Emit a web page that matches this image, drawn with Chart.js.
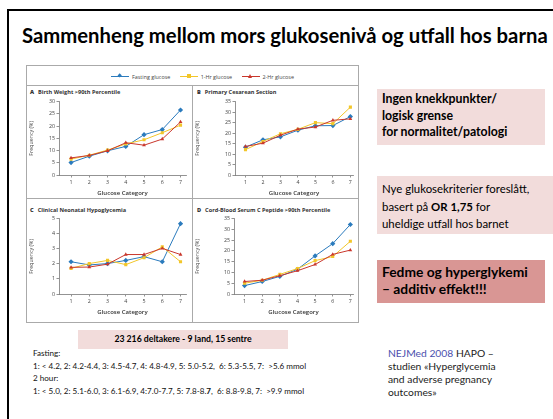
<!DOCTYPE html>
<html>
<head>
<meta charset="utf-8">
<script src="https://cdn.jsdelivr.net/npm/chart.js@4.4.1/dist/chart.umd.min.js"></script>
<style>
  body { margin:0; width:553px; height:419px; background:#fff; position:relative; overflow:hidden; font-family:Lato, "Open Sans", sans-serif; }
  .abs { position:absolute; }
  #frameL { left:7px; top:9px; width:2px; height:410px; background:#000; }
  #frameT { left:7px; top:9px; width:546px; height:2px; background:#000; }
  #title { left:22px; top:23px; font-size:20.3px; font-weight:bold; color:#000; white-space:nowrap; }
  #fig { left:26px; top:65px; width:331px; height:256px; border:1px solid #aaa; }
  .hline { background:#aaa; height:1px; }
  .vline { background:#aaa; width:1px; }
  .ptitle { font-family:"Open Sans", sans-serif; font-size:5.6px; font-weight:bold; color:#333; white-space:nowrap; }
  .ptitle b { margin-right:4px; }
  #legend { left:111px; top:72px; font-family:"Open Sans", sans-serif; font-size:5.4px; color:#444; white-space:nowrap; }
  #legend span { display:inline-block; vertical-align:middle; }
  .lg { position:relative; width:18px; height:1px; margin-right:3px; }
  .mk { position:absolute; left:7px; top:-2px; width:4px; height:4px; }
  canvas { position:absolute; }
  .box { position:absolute; color:#000; white-space:nowrap; }
</style>
</head>
<body>
<div id="frameL" class="abs"></div>
<div id="frameT" class="abs"></div>
<div id="title" class="abs">Sammenheng mellom mors glukosenivå og utfall hos barna</div>

<div id="fig" class="abs"></div>
<div class="abs hline" style="left:26px;top:85px;width:332px;"></div>
<div class="abs hline" style="left:26px;top:198px;width:332px;"></div>
<div class="abs vline" style="left:192px;top:85px;height:237px;"></div>

<div id="legend" class="abs">
  <span class="lg" style="background:#2b7bbd"><span class="mk" style="background:#2b7bbd;transform:rotate(45deg);width:3.4px;height:3.4px;left:7.3px;top:-1.7px"></span></span><span style="margin-right:8px">Fasting glucose</span>
  <span class="lg" style="background:#f2c62a"><span class="mk" style="background:#f2c62a"></span></span><span style="margin-right:8px">1-Hr glucose</span>
  <span class="lg" style="background:#c9372c"><span class="mk" style="width:0;height:0;background:none;border-left:2.5px solid transparent;border-right:2.5px solid transparent;border-bottom:4px solid #c9372c;left:6.5px;top:-2.5px"></span></span><span>2-Hr glucose</span>
</div>

<div class="abs ptitle" style="left:30px;top:88px;"><b>A</b>Birth Weight &gt;90th Percentile</div>
<div class="abs ptitle" style="left:197px;top:88px;"><b>B</b>Primary Cesarean Section</div>
<div class="abs ptitle" style="left:30px;top:206px;"><b>C</b>Clinical Neonatal Hypoglycemia</div>
<div class="abs ptitle" style="left:197px;top:206px;"><b>D</b>Cord-Blood Serum C Peptide &gt;90th Percentile</div>

<canvas id="cA" style="left:28px;top:97px;" width="162" height="100"></canvas>
<canvas id="cB" style="left:194px;top:97px;" width="163" height="100"></canvas>
<canvas id="cC" style="left:28px;top:214px;" width="162" height="102"></canvas>
<canvas id="cD" style="left:194px;top:214px;" width="163" height="102"></canvas>

<div class="box" style="left:377px;top:89px;width:168px;height:56px;background:#f2dcdb;"></div>
<div class="box" style="left:382px;top:91px;font-size:12.3px;font-weight:bold;line-height:16.5px;">Ingen knekkpunkter/<br>logisk grense<br>for normalitet/patologi</div>

<div class="box" style="left:377px;top:176px;width:176px;height:58px;background:#f2dcdb;"></div>
<div class="box" style="left:382px;top:180px;font-size:11.4px;line-height:17.5px;">Nye glukosekriterier foreslått,<br>basert på <b>OR 1,75</b> for<br>uheldige utfall hos barnet</div>

<div class="box" style="left:377px;top:260px;width:168px;height:43px;background:#d99694;"></div>
<div class="box" style="left:382px;top:264px;font-size:13.8px;font-weight:bold;line-height:16.5px;">Fedme og hyperglykemi<br>– additiv effekt!!!</div>

<div class="box" style="left:78px;top:330px;width:210px;height:19px;background:#f2dcdb;"></div>
<div class="box" style="left:78px;top:333px;width:210px;text-align:center;font-size:8.7px;font-weight:bold;">23 216 deltakere - 9 land, 15 sentre</div>

<div class="box" style="left:33px;top:347px;font-size:8.1px;line-height:12.6px;color:#111;">Fasting:<br>1: &lt; 4.2, 2: 4.2-4.4, 3: 4.5-4.7, 4: 4.8-4.9, 5: 5.0-5.2,&nbsp; 6: 5.3-5.5, 7:&nbsp; &gt;5.6 mmol<br>2 hour:<br>1: &lt; 5.0, 2: 5.1-6.0, 3: 6.1-6.9, 4:7.0-7.7, 5: 7.8-8.<b>7</b>,&nbsp; 6: 8.8-9.8, 7:&nbsp; &gt;9.9 mmol</div>

<div class="box" style="left:388px;top:347px;font-size:10.3px;line-height:13px;color:#222;"><span style="color:#4b4fae">NEJMed 2008</span> HAPO –<br>studien «Hyperglycemia<br>and adverse pregnancy<br>outcomes»</div>

<script>
// glucose categories 1..7
var categories = [1, 2, 3, 4, 5, 6, 7];

// A: Birth weight >90th percentile (%)
var bwFasting = [5.1, 7.7, 9.9, 11.7, 16.5, 18.6, 26.6];
var bw1Hr     = [6.5, 8.1, 10.2, 12.7, 14.4, 17.3, 20.4];
var bw2Hr     = [7.0, 8.0, 9.9, 13.2, 12.2, 14.7, 21.7];

// B: Primary cesarean section (%)
var csFasting = [13.3, 16.8, 18.2, 21.4, 23.5, 23.6, 27.9];
var cs1Hr     = [12.1, 16.0, 19.7, 21.8, 25.0, 24.5, 32.4];
var cs2Hr     = [13.6, 15.2, 19.0, 21.9, 22.9, 26.1, 26.8];

// C: Clinical neonatal hypoglycemia (%)
var hgFasting = [2.14, 1.93, 2.02, 2.23, 2.48, 2.14, 4.67];
var hg1Hr     = [1.70, 2.02, 2.23, 1.95, 2.41, 3.13, 2.14];
var hg2Hr     = [1.77, 1.79, 1.98, 2.62, 2.62, 3.03, 2.62];

// D: Cord-blood serum C peptide >90th percentile (%)
var cpFasting = [3.9, 5.8, 8.2, 11.5, 17.7, 23.4, 32.3];
var cp1Hr     = [5.0, 6.4, 9.1, 11.8, 15.5, 17.4, 24.5];
var cp2Hr     = [5.8, 6.4, 8.5, 10.8, 13.7, 18.4, 20.4];

var seriesNames = ['Fasting glucose', '1-Hr glucose', '2-Hr glucose'];
var colors = ['#2b7bbd', '#f2c62a', '#c9372c'];
var markers = ['rectRot', 'rect', 'triangle'];

function pts(vals) {
  return categories.map(function (c, i) { return { x: c, y: vals[i] }; });
}

function makeChart(id, series, yMax, yStep, xMin, xMax, yWidth, xHeight, padTop) {
  var datasets = series.map(function (s, i) {
    return {
      label: seriesNames[i],
      data: pts(s),
      borderColor: colors[i],
      backgroundColor: colors[i],
      borderWidth: 1,
      pointStyle: markers[i],
      pointRadius: i == 0 ? 2.6 : 2.2,
      pointBorderWidth: 0,
      tension: 0
    };
  });
  // draw fasting on top
  datasets.reverse();

  new Chart(document.getElementById(id), {
    type: 'line',
    data: { datasets: datasets },
    options: {
      responsive: false,
      animation: false,
      events: [],
      layout: { padding: { top: padTop, right: 1, left: 0, bottom: 0 } },
      plugins: { legend: { display: false }, title: { display: false }, tooltip: { enabled: false } },
      scales: {
        x: {
          type: 'linear',
          min: xMin, max: xMax,
          afterBuildTicks: function (scale) { scale.ticks = categories.map(function (c) { return { value: c }; }); },
          afterFit: function (scale) { scale.height = xHeight; },
          border: { color: '#777', width: 0.8 },
          grid: { drawOnChartArea: false, color: '#777', tickLength: 2.5, lineWidth: 0.8 },
          ticks: { font: { family: 'Open Sans', size: 5.3 }, color: '#444', padding: 1.5, maxRotation: 0 },
          title: { display: true, text: 'Glucose Category', font: { family: 'Open Sans', size: 6, weight: '600' }, color: '#333', padding: { top: 1, bottom: 0 } }
        },
        y: {
          min: 0, max: yMax,
          ticks: { stepSize: yStep, font: { family: 'Open Sans', size: 5.3 }, color: '#444', padding: 1.5 },
          afterFit: function (scale) { scale.width = yWidth; },
          border: { color: '#777', width: 0.8 },
          grid: { drawOnChartArea: false, color: '#777', tickLength: 2.5, lineWidth: 0.8 },
          title: { display: true, text: 'Frequency (%)', font: { family: 'Open Sans', size: 5.3 }, color: '#444', padding: 0 }
        }
      }
    }
  });
}

makeChart('cA', [bwFasting, bw1Hr, bw2Hr], 30, 5, 0.34, 7.3, 31, 22, 3);
makeChart('cB', [csFasting, cs1Hr, cs2Hr], 35, 5, 0.4, 7.15, 41, 22, 3);
makeChart('cC', [hgFasting, hg1Hr, hg2Hr], 5, 1, 0.34, 7.3, 31, 22, 4);
makeChart('cD', [cpFasting, cp1Hr, cp2Hr], 35, 5, 0.4, 7.15, 40, 22, 3);
</script>
</body>
</html>
